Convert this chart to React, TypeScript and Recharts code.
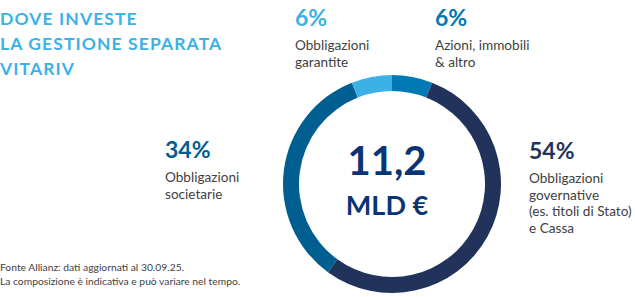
import { PieChart, Pie, Cell } from 'recharts';

const categories = ['Azioni, immobili & altro', 'Obbligazioni governative', 'Obbligazioni societarie', 'Obbligazioni garantite'];
const shares = [6, 54, 34, 6];
const colors = ['#0079b4', '#22335b', '#005e90', '#3cb1e5'];

const titleLines = ['DOVE INVESTE', 'LA GESTIONE SEPARATA', 'VITARIV'];
const totalLines = ['11,2', 'MLD €'];
const footLines = ['Fonte Allianz: dati aggiornati al 30.09.25.', 'La composizione è indicativa e può variare nel tempo.'];

const callouts = [
  { pct: '6%', color: '#3cb1e5', lines: ['Obbligazioni', 'garantite'], x: 295, y: 26 },
  { pct: '6%', color: '#0079b4', lines: ['Azioni, immobili', '& altro'], x: 435, y: 26 },
  { pct: '34%', color: '#005e90', lines: ['Obbligazioni', 'societarie'], x: 165, y: 158 },
  { pct: '54%', color: '#22335b', lines: ['Obbligazioni', 'governative', '(es. titoli di Stato)', 'e Cassa'], x: 529, y: 159 },
];

const data = categories.map((name, i) => ({ name, value: shares[i], fill: colors[i] }));
const font = 'Lato, sans-serif';
const CX = 387;
const CY = 179;

export default function App() {
  return (
    <div style={{ position: 'absolute', left: 0, top: 0, width: 635, height: 297, background: '#fff' }}>
      <PieChart width={635} height={297}>
        <Pie
          data={data}
          dataKey="value"
          nameKey="name"
          cx={CX}
          cy={CY}
          innerRadius={93}
          outerRadius={109}
          startAngle={90}
          endAngle={-270}
          stroke="none"
          isAnimationActive={false}
        >
          {data.map((entry, index) => (
            <Cell key={`cell-${index}`} fill={entry.fill} />
          ))}
        </Pie>
      </PieChart>
      <svg width={635} height={297} style={{ position: 'absolute', left: 0, top: 0, pointerEvents: 'none' }}>
        <g fontFamily={font} fontWeight={700} fontSize={17.5} letterSpacing={1.1} fill="#3cb1e5">
          {titleLines.map((t, i) => (
            <text key={t} x={0} y={25 + i * 25}>{t}</text>
          ))}
        </g>
        <g fontFamily={font} fontWeight={700} fill="#0b3475" textAnchor="middle">
          <text x={CX} y={CY - 4} fontSize={40}>{totalLines[0]}</text>
          <text x={CX} y={CY + 36} fontSize={27}>{totalLines[1]}</text>
        </g>
        {callouts.map((c) => (
          <g key={c.pct + c.x} fontFamily={font}>
            <text x={c.x} y={c.y} fontSize={23} fontWeight={700} fill={c.color}>{c.pct}</text>
            {c.lines.map((l, i) => (
              <text key={l} x={c.x} y={c.y + 24 + i * 16.5} fontSize={13.6} fill="#414141">{l}</text>
            ))}
          </g>
        ))}
        <g fontFamily={font} fontSize={10.3} fill="#414141">
          {footLines.map((t, i) => (
            <text key={t} x={0} y={271 + i * 14}>{t}</text>
          ))}
        </g>
      </svg>
    </div>
  );
}
